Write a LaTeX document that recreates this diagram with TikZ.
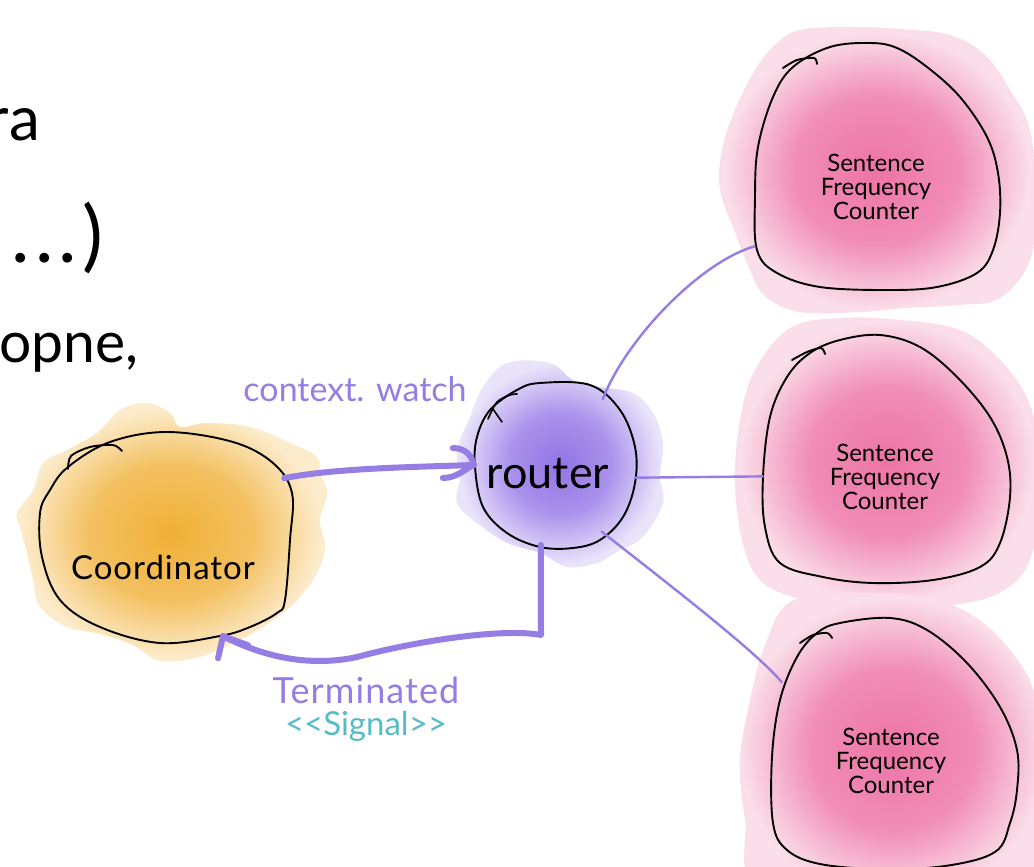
\documentclass[tikz,border=0pt]{standalone}
\usepackage{fontspec}
\setmainfont{Lato}
\usetikzlibrary{calc}

% ink and wash colours
\definecolor{pen}{RGB}{150,125,228}
\definecolor{tealpen}{RGB}{88,188,198}
\definecolor{orangeC}{RGB}{240,176,54}
\definecolor{orangeM}{RGB}{243,192,96}
\definecolor{orangeE}{RGB}{252,236,204}
\definecolor{purpleC}{RGB}{146,116,228}
\definecolor{purpleM}{RGB}{170,146,236}
\definecolor{purpleE}{RGB}{234,228,250}
\definecolor{pinkC}{RGB}{237,116,164}
\definecolor{pinkM}{RGB}{241,142,183}
\definecolor{pinkE}{RGB}{250,222,233}

% the inner 25bp radius spans the shaded path
\pgfdeclareradialshading{washorange}{\pgfpoint{0bp}{0bp}}{color(0bp)=(orangeC); color(13bp)=(orangeM); color(24bp)=(orangeE); color(50bp)=(orangeE)}
\pgfdeclareradialshading{washpurple}{\pgfpoint{0bp}{0bp}}{color(0bp)=(purpleC); color(12bp)=(purpleM); color(24bp)=(purpleE); color(50bp)=(purpleE)}
\pgfdeclareradialshading{washpink}{\pgfpoint{0bp}{0bp}}{color(0bp)=(pinkC); color(13bp)=(pinkM); color(24bp)=(pinkE); color(50bp)=(pinkE)}

\newcommand{\handsize}[1]{\fontsize{#1}{#1}\selectfont}

\begin{document}
\begin{tikzpicture}[x=1pt,y=-1pt,line join=round,line cap=round,
  outline/.style={draw=black,line width=1.9pt},
  thickpen/.style={draw=pen,line width=6pt},
  thinpen/.style={draw=pen,line width=2.4pt},
  blob/.style={shape=rectangle,inner sep=0pt},
  slide/.style={inner sep=0pt,text=black},
  hand/.style={inner sep=0pt,text=black},
  penlabel/.style={inner sep=0pt,text=pen},
  counterlabel/.style={hand,align=center,font=\handsize{24}}]

\useasboundingbox (0,0) rectangle (1034,867);
\clip (0,0) rectangle (1034,867);
\fill[white] (0,0) rectangle (1034,867);

% slide text behind the sketch
\node[slide,anchor=base east,font=\handsize{62}] (sl1) at (40,140) {ra};
\node[slide,anchor=base east,font=\handsize{78}] (sl2) at (104,262) {.\hspace{5pt}.\hspace{5pt}.\hspace{6pt})};
\node[slide,anchor=base west,font=\handsize{57}] (sl3) at (-1,362) {opne,};

% watercolour washes
\shade[shading=washpink] plot[smooth cycle,tension=0.6] coordinates {
  (775,45) (800,30) (850,27) (900,29) (950,35) (985,55) (1010,90) (1030,130)
  (1036,200) (1030,260) (1000,298) (960,305) (905,308) (860,312) (800,312)
  (765,296) (750,270) (735,232) (720,190) (722,150) (735,110) (755,70)};
\shade[shading=washpink] plot[smooth cycle,tension=0.6] coordinates {
  (790,328) (840,318) (900,320) (960,330) (1000,360) (1028,400) (1038,450)
  (1038,520) (1025,570) (990,597) (930,607) (860,607) (800,599) (760,580)
  (742,540) (735,480) (740,420) (755,370)};
\shade[shading=washpink] plot[smooth cycle,tension=0.6] coordinates {
  (790,602) (850,593) (920,596) (970,614) (1010,650) (1036,700) (1040,800)
  (1030,890) (900,900) (760,890) (745,820) (740,760) (750,700) (765,645)};
\shade[shading=washorange] plot[smooth cycle,tension=0.6] coordinates {
  (20,527) (17,513) (33,490) (43,463) (67,450) (97,433) (120,410) (147,403)
  (170,413) (180,427) (207,423) (250,427) (290,443) (317,457) (320,473)
  (327,493) (320,520) (325,547) (317,573) (300,597) (283,613) (253,633)
  (233,643) (200,657) (160,661) (133,645) (100,634) (67,627) (40,607)
  (33,580) (27,553)};
\shade[shading=washpurple] plot[smooth cycle,tension=0.6] coordinates {
  (507,363) (550,363) (573,380) (600,387) (633,393) (653,413) (663,443)
  (660,477) (663,503) (643,537) (620,550) (597,563) (567,567) (540,553)
  (507,543) (477,523) (457,503) (460,477) (457,450) (470,417) (483,387)};

% actors (borders drawn by hand below)
\node[blob,minimum width=254pt,minimum height=211pt] (coord) at (166,537.5) {};
\node[circle,inner sep=0pt,minimum size=162pt] (router) at (555,465) {};
\node[blob,minimum width=245pt,minimum height=247pt] (sfc1) at (877.5,166.5) {};
\node[blob,minimum width=247pt,minimum height=248pt] (sfc2) at (886.5,459) {};
\node[blob,minimum width=245pt,minimum height=247pt] (sfc3) at (894.5,741.5) {};

% pen outlines
\draw[outline] plot[smooth cycle,tension=0.6] coordinates {
  (68,467) (110,442) (167,432) (233,442) (273,463) (292,493) (290,540)
  (285,600) (277,613) (250,627) (220,636) (160,643) (100,627) (60,600)
  (42,557) (40,513) (50,490)};
\draw[outline] plot[smooth] coordinates {(68,469) (71,456) (90,447) (113,445) (122,451)};

\draw[outline] plot[smooth cycle,tension=0.6] coordinates {
  (540,383) (590,385) (620,410) (635,447) (635,483) (623,517) (600,540)
  (573,548) (540,547) (507,533) (483,507) (475,467) (477,437) (490,410) (517,390)};
\draw[outline,line width=1.6pt] plot[smooth] coordinates {(488,419) (497,402) (510,395) (517,394)};
\draw[outline,line width=1.6pt] (493,409) -- (502,422);

\draw[outline] plot[smooth cycle,tension=0.6] coordinates {
  (830,47) (870,43) (897,48) (927,67) (960,97) (987,137) (998,173) (1000,213)
  (993,250) (977,273) (937,287) (887,290) (820,287) (777,273) (757,250)
  (755,197) (758,147) (773,97) (793,67)};
\draw[outline] plot[smooth] coordinates {(783,68) (797,60) (814,58) (817,64)};

\draw[outline] plot[smooth cycle,tension=0.6] coordinates {
  (840,340) (880,335) (920,347) (957,377) (990,417) (1007,457) (1010,497)
  (1000,543) (980,567) (933,580) (873,583) (823,577) (780,563) (765,527)
  (763,477) (770,417) (787,377) (810,353)};
\draw[outline] plot[smooth] coordinates {(792,360) (807,352) (821,348) (825,354)};

\draw[outline] plot[smooth cycle,tension=0.6] coordinates {
  (840,623) (890,618) (927,630) (967,663) (1000,707) (1017,750) (1017,790)
  (1010,823) (995,852) (945,866) (880,869) (820,864) (787,850) (773,823)
  (772,757) (780,700) (797,657) (817,633)};
\draw[outline] plot[smooth] coordinates {(800,643) (813,635) (827,633) (832,638)};

% context.watch: coordinator -> router
\draw[thickpen] ([xshift=-9pt]coord.25) .. controls +(50,-10) and +(-60,2) .. (router.west);
\draw[thickpen] ($(router.west)+(-21,-17)$) .. controls +(13,0) and +(-2,-9) .. (router.west);
\draw[thickpen] ($(router.west)+(-31,13)$) .. controls +(15,0) and +(-8,3) .. (router.west);

% Terminated: router -> coordinator
\coordinate (tip2) at ([shift={(-4pt,7pt)}]coord.-60);
\draw[thickpen] (router.260) -- (541,635) .. controls (505,628) and (420,640) ..
  (357,657) .. controls (315,666) and (270,660) .. (tip2);
\draw[thickpen] (tip2) -- ($(tip2)+(-5,22)$);
\draw[thickpen] (tip2) -- ($(tip2)+(25,9)$);

% router -> sentence frequency counters
\draw[thinpen] (router.54) .. controls +(23,-60) and +(-55,16) .. (sfc1.-147);
\draw[thinpen] (router.-9) -- (sfc2.-172);
\draw[thinpen] (router.-55) .. controls +(70,55) and +(-25,-30) .. ([shift={(10pt,-6pt)}]sfc3.152);

% hand-written labels
\node[hand,font=\handsize{33}\addfontfeatures{LetterSpace=3}] (coordtext) at (163,567) {Coordinator};
\node[hand,font=\handsize{45}] (routertext) at (548,474) {router};
\node[penlabel,font=\handsize{34}] (watchtext) at (355,389) {context. watch};
\node[penlabel,anchor=base,font=\handsize{36}\addfontfeatures{LetterSpace=3}] (termtext) at (366,703) {Terminated};
\node[inner sep=0pt,text=tealpen,anchor=base,font=\handsize{33}] (signaltext) at (366,735) {<{}<Signal>{}>};

\node[counterlabel] (sfc1text) at (876,187) {Sentence\\Frequency\\Counter};
\node[counterlabel] (sfc2text) at (885,477) {Sentence\\Frequency\\Counter};
\node[counterlabel] (sfc3text) at (891,761) {Sentence\\Frequency\\Counter};
\end{tikzpicture}
\end{document}
